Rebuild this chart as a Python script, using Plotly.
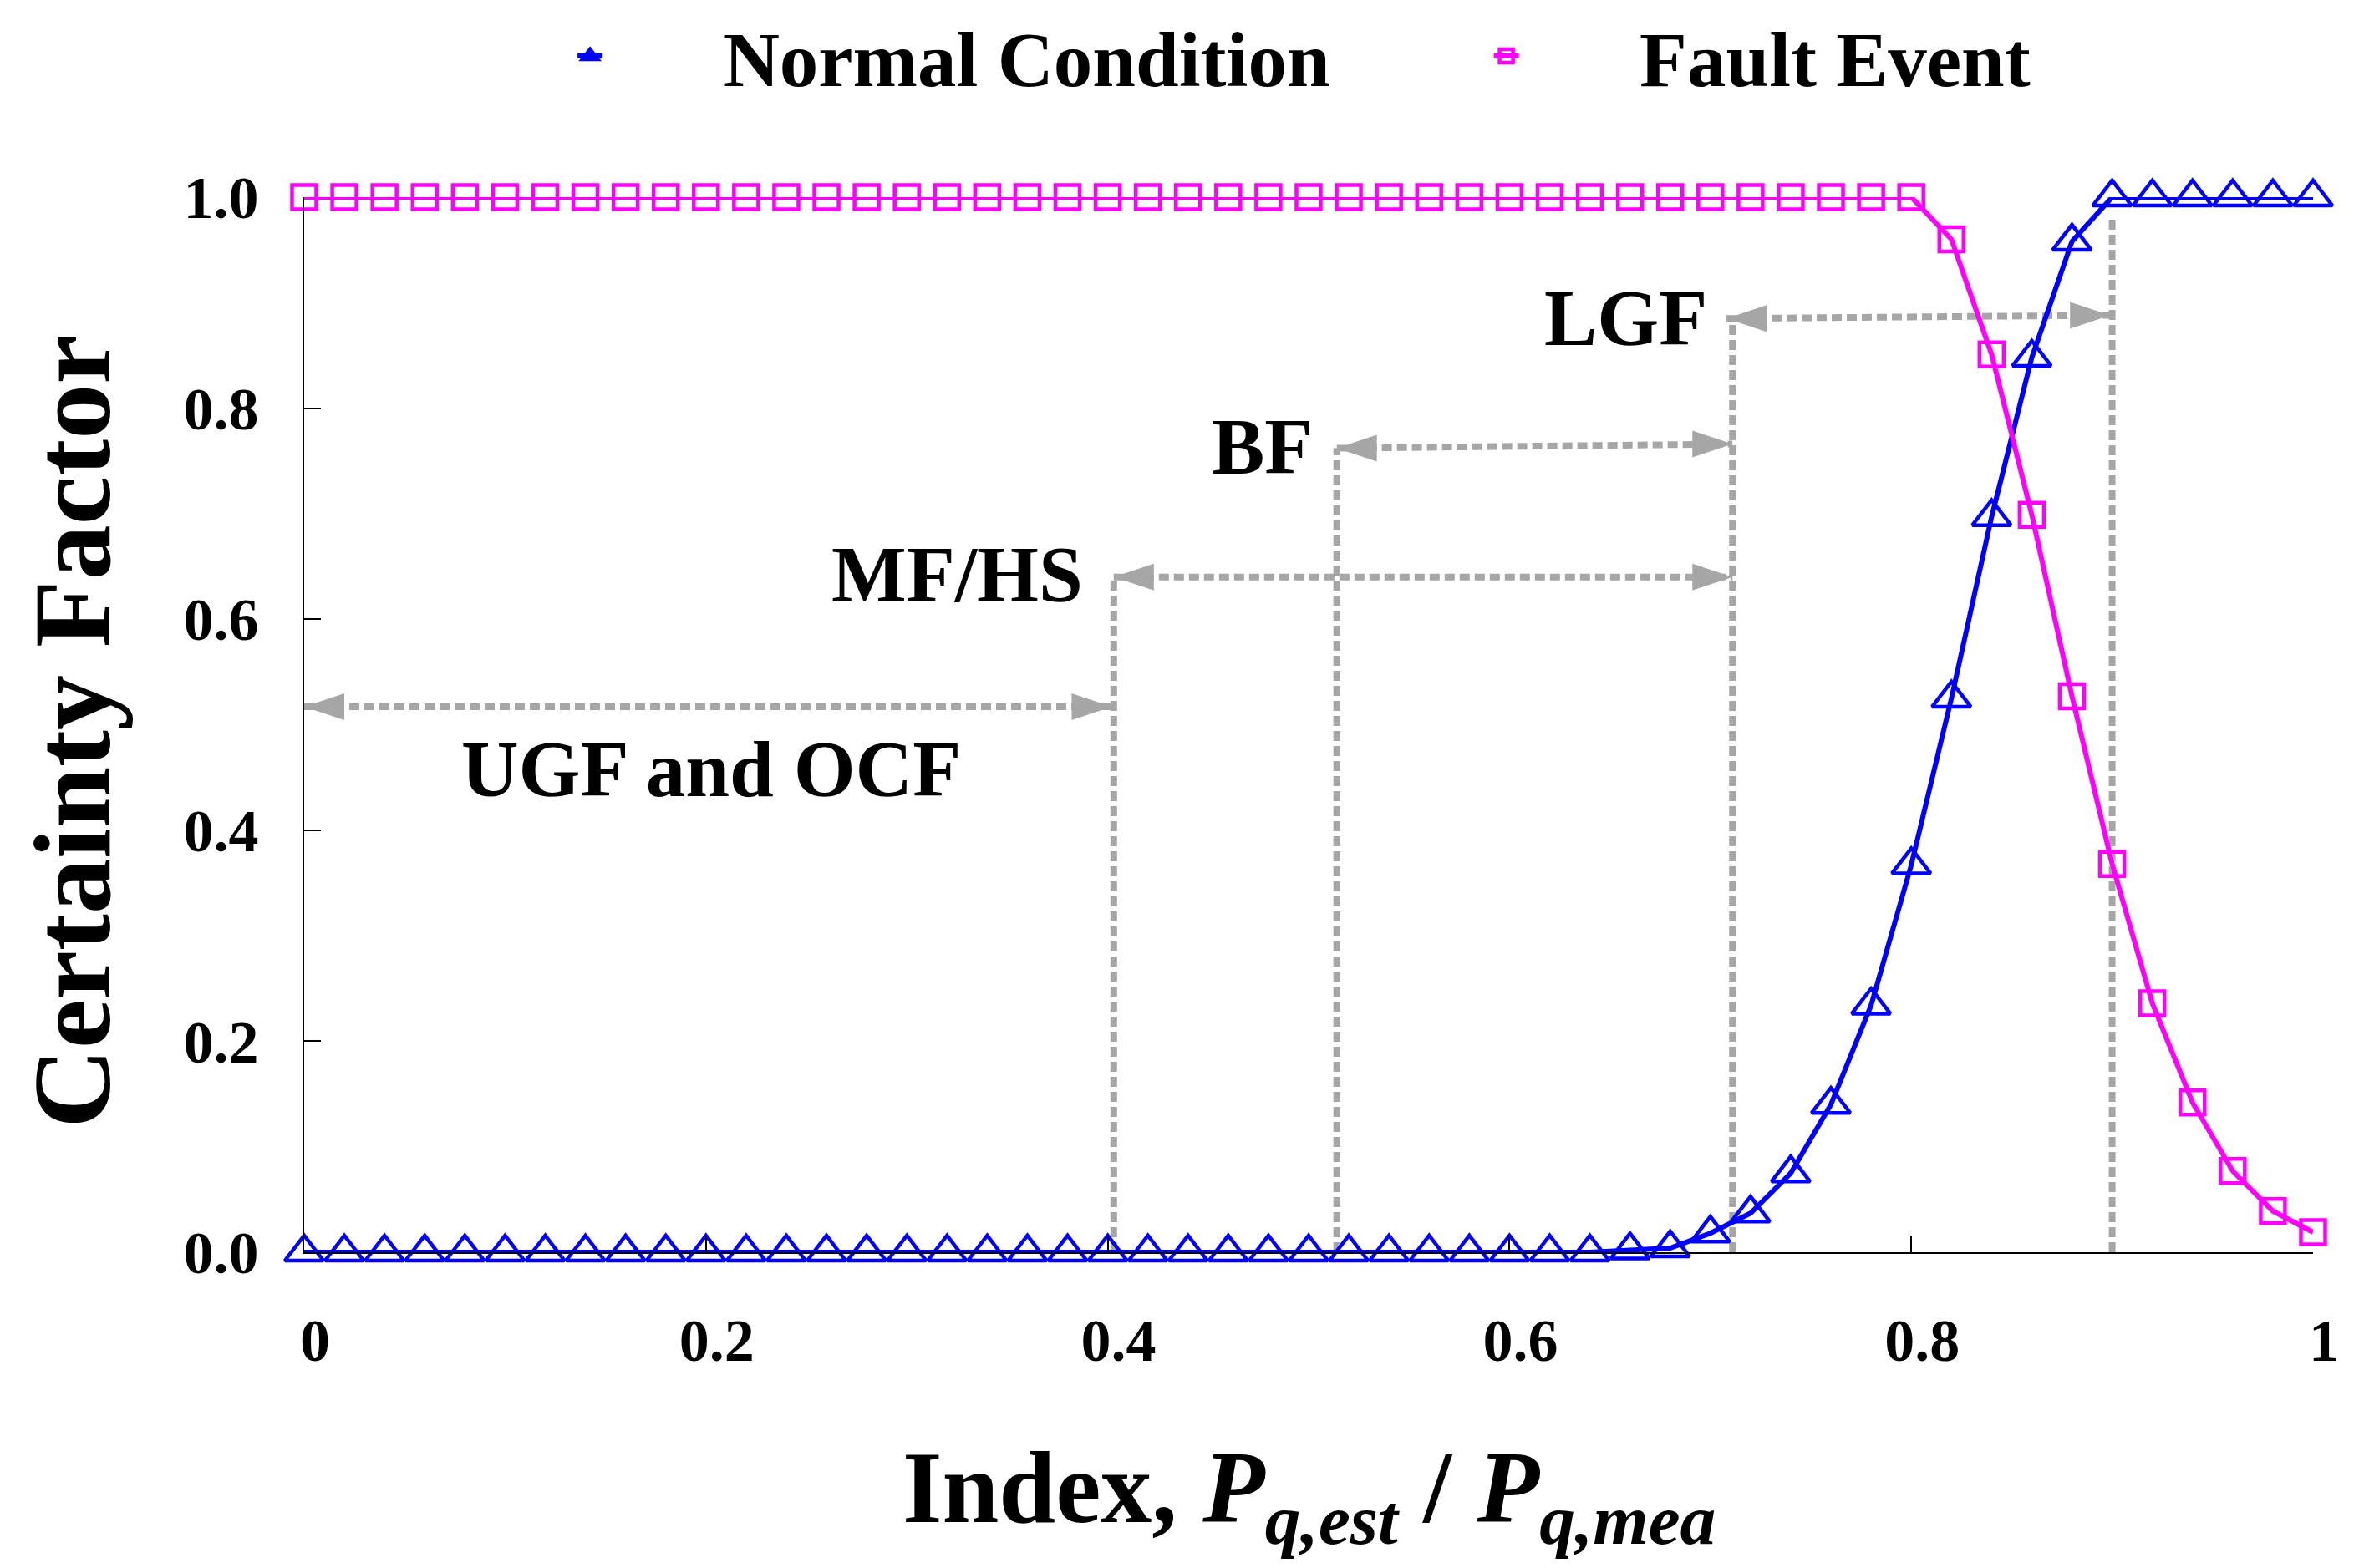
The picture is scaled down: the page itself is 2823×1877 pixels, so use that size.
import plotly.graph_objects as go

# Index P_q,est / P_q,mea (step 0.02)
x_index = [0.00, 0.02, 0.04, 0.06, 0.08, 0.10, 0.12, 0.14, 0.16, 0.18,
           0.20, 0.22, 0.24, 0.26, 0.28, 0.30, 0.32, 0.34, 0.36, 0.38,
           0.40, 0.42, 0.44, 0.46, 0.48, 0.50, 0.52, 0.54, 0.56, 0.58,
           0.60, 0.62, 0.64, 0.66, 0.68, 0.70, 0.72, 0.74, 0.76, 0.78,
           0.80, 0.82, 0.84, 0.86, 0.88, 0.90, 0.92, 0.94, 0.96, 0.98,
           1.00]

normal_cf = [0.0, 0.0, 0.0, 0.0, 0.0, 0.0, 0.0, 0.0, 0.0, 0.0,
             0.0, 0.0, 0.0, 0.0, 0.0, 0.0, 0.0, 0.0, 0.0, 0.0,
             0.0, 0.0, 0.0, 0.0, 0.0, 0.0, 0.0, 0.0, 0.0, 0.0,
             0.0, 0.0, 0.0, 0.002, 0.004, 0.018, 0.037, 0.075, 0.140, 0.234,
             0.367, 0.525, 0.697, 0.848, 0.958, 1.0, 1.0, 1.0, 1.0, 1.0,
             1.0]

fault_cf = [1.0, 1.0, 1.0, 1.0, 1.0, 1.0, 1.0, 1.0, 1.0, 1.0,
            1.0, 1.0, 1.0, 1.0, 1.0, 1.0, 1.0, 1.0, 1.0, 1.0,
            1.0, 1.0, 1.0, 1.0, 1.0, 1.0, 1.0, 1.0, 1.0, 1.0,
            1.0, 1.0, 1.0, 1.0, 1.0, 1.0, 1.0, 1.0, 1.0, 1.0,
            1.0, 0.960, 0.851, 0.699, 0.527, 0.368, 0.236, 0.142, 0.077, 0.039,
            0.019]

# region boundaries (vertical dotted lines)
vline_x = [0.403, 0.514, 0.711, 0.900]
vline_top = [0.640, 0.762, 0.885, 0.982]

# double arrows
arrow_x0 = [0.000, 0.403, 0.514, 0.708]
arrow_x1 = [0.402, 0.711, 0.711, 0.899]
arrow_y0 = [0.517, 0.640, 0.762, 0.885]
arrow_y1 = [0.517, 0.640, 0.766, 0.888]

label_text = ["UGF and OCF", "MF/HS", "BF", "LGF"]
label_x = [0.2026, 0.325, 0.477, 0.658]
label_y = [0.458, 0.642, 0.763, 0.885]

x_ticks = [0, 0.2, 0.4, 0.6, 0.8, 1]
y_ticks = [0.0, 0.2, 0.4, 0.6, 0.8, 1.0]

FONT = "Liberation Serif, Times New Roman, serif"
GRAY = "#A6A6A6"
NB = "\u00a0"

# arrow head glyphs in pixels, tip at the anchor
HEAD_RIGHT = "M0,0 L-48,16 L-48,-16 Z"
HEAD_LEFT = "M0,0 L48,16 L48,-16 Z"

fig = go.Figure()

fig.add_trace(go.Scatter(
    x=x_index, y=normal_cf, name=NB * 6 + "Normal Condition" + NB * 8,
    mode="lines+markers", cliponaxis=False,
    line=dict(color="#0000FF", width=6),
    marker=dict(symbol="triangle-up-open", size=40, color="#0000FF",
                line=dict(width=4.5, color="#0000FF")),
))
fig.add_trace(go.Scatter(
    x=x_index, y=fault_cf, name=NB * 6 + "Fault Event",
    mode="lines+markers", cliponaxis=False,
    line=dict(color="#FF00FF", width=6),
    marker=dict(symbol="square-open", size=29, color="#FF00FF",
                line=dict(width=4.5, color="#FF00FF")),
))

shapes = []
for xv, top in zip(vline_x, vline_top):
    shapes.append(dict(type="line", xref="x", yref="y", x0=xv, x1=xv, y0=0, y1=top,
                       line=dict(color=GRAY, width=8, dash="12px,6px"), layer="below"))
for x0, x1, y0, y1 in zip(arrow_x0, arrow_x1, arrow_y0, arrow_y1):
    shapes.append(dict(type="line", xref="x", yref="y", x0=x0, x1=x1, y0=y0, y1=y1,
                       line=dict(color=GRAY, width=8, dash="12px,6px"), layer="below"))
    # arrow heads at both ends
    shapes.append(dict(type="path", xref="x", yref="y", xsizemode="pixel", ysizemode="pixel",
                       xanchor=x0, yanchor=y0, path=HEAD_LEFT,
                       fillcolor=GRAY, line=dict(width=0), layer="below"))
    shapes.append(dict(type="path", xref="x", yref="y", xsizemode="pixel", ysizemode="pixel",
                       xanchor=x1, yanchor=y1, path=HEAD_RIGHT,
                       fillcolor=GRAY, line=dict(width=0), layer="below"))

annotations = []
for t, xv, yv in zip(label_text, label_x, label_y):
    annotations.append(dict(x=xv, y=yv, xref="x", yref="y", text=t, showarrow=False,
                            xanchor="center", yanchor="middle",
                            font=dict(family=FONT, size=95, color="black", weight="bold")))

# axis titles
annotations.append(dict(
    x=-0.1156, y=0.493, xref="paper", yref="paper", textangle=-90,
    text="Certainty Factor", showarrow=False, xanchor="center", yanchor="middle",
    font=dict(family=FONT, size=132, color="black", weight="bold")))
annotations.append(dict(
    x=0.5, y=-0.23, xref="paper", yref="paper",
    text="Index, <i>P</i><sub><i>q,est</i></sub> / <i>P</i><sub><i>q,mea</i></sub>",
    showarrow=False, xanchor="center", yanchor="middle",
    font=dict(family=FONT, size=122, color="black", weight="bold")))

fig.update_layout(
    width=2823, height=1877,
    margin=dict(l=364, r=55, t=236, b=378),
    paper_bgcolor="white", plot_bgcolor="white",
    font=dict(family=FONT, color="black"),
    shapes=shapes, annotations=annotations,
    showlegend=True,
    legend=dict(orientation="h", x=0.134, xanchor="left",
                yref="container", y=1.0, yanchor="top",
                font=dict(family=FONT, size=93, color="black", weight="bold"),
                bgcolor="rgba(0,0,0,0)", borderwidth=0),
    xaxis=dict(range=[0, 1], tickvals=x_ticks, showgrid=False, zeroline=False,
               showline=True, linecolor="black", linewidth=2,
               ticks="inside", ticklen=20, tickwidth=2, tickcolor="black",
               ticklabelstandoff=42, ticklabelshift=13,
               tickfont=dict(family=FONT, size=72, color="black", weight="bold")),
    yaxis=dict(range=[0, 1], tickvals=y_ticks, tickformat=".1f", showgrid=False,
               zeroline=False, showline=True, linecolor="black", linewidth=2,
               ticks="inside", ticklen=20, tickwidth=2, tickcolor="black",
               ticklabelstandoff=38,
               tickfont=dict(family=FONT, size=72, color="black", weight="bold")),
)

fig.write_html("out.html", config={"displayModeBar": False},
               post_script="document.body.style.margin='0';")
